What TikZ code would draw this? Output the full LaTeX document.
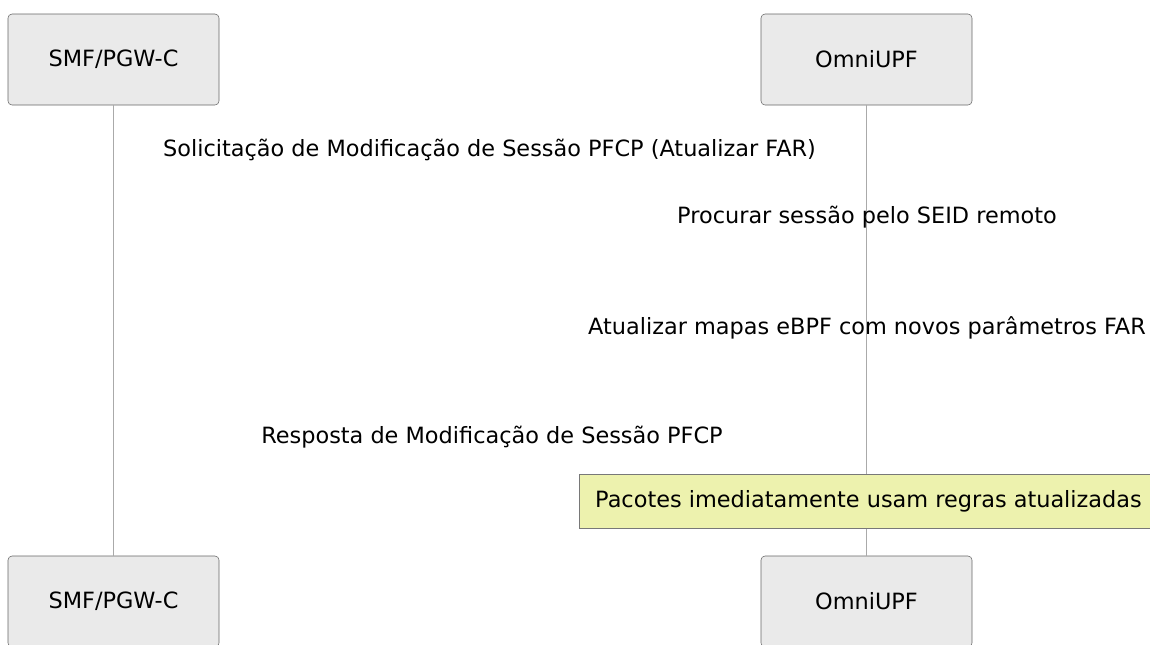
\documentclass[tikz,border=0pt]{standalone}
\usepackage{fontspec}
\setmainfont{DejaVu Sans}
\usepackage{xcolor}
\usepackage{tikz}
\usetikzlibrary{positioning}
\definecolor{ActorFill}{RGB}{234, 234, 234}
\definecolor{ActorLine}{RGB}{102, 102, 102}
\definecolor{LifeLine}{RGB}{170, 170, 170}
\definecolor{NoteFill}{RGB}{237, 242, 174}
\definecolor{NoteLine}{RGB}{120, 120, 120}

\begin{document}
\begin{tikzpicture}[
          x=0.75pt, y=-0.75pt,
          font=\fontsize{16.8}{20}\selectfont,
          actor/.style={rectangle, rounded corners=3pt, draw=ActorLine, fill=ActorFill, minimum width=158.25pt, minimum height=68.25pt, inner sep=0pt},
          msg/.style={anchor=base, inner sep=0pt},
          note/.style={rectangle, draw=NoteLine, fill=NoteFill, minimum width=434.25pt, minimum height=40.5pt, inner sep=0pt},
          lifeline/.style={draw=LifeLine, line width=0.6pt}
        ]
          \useasboundingbox (0,0) rectangle (1150,644);
          \clip (0,0) rectangle (1150,644);

          \node[actor] (smfTop) at (113.5,59.5) {SMF/PGW-C};
          \node[actor] (upfTop) at (866.5,59.5) {OmniUPF};
          \node[actor] (smfBot) at (113.5,601.5) {SMF/PGW-C};
          \node[actor] (upfBot) at (866.5,601.5) {OmniUPF};

          \draw[lifeline] (smfTop) -- (smfBot);
          \draw[lifeline] (upfTop) -- (upfBot);

          \node[msg] (req) at (489.5,156) {Solicitação de Modificação de Sessão PFCP (Atualizar FAR)};
          \node[msg] (lookup) at (867,223) {Procurar sessão pelo SEID remoto};
          \node[msg] (update) at (867,334) {Atualizar mapas eBPF com novos parâmetros FAR};
          \node[msg] (resp) at (492,443) {Resposta de Modificação de Sessão PFCP};

          \node[note] (packets) at (868.5,501) {Pacotes imediatamente usam regras atualizadas};
        \end{tikzpicture}
\end{document}
